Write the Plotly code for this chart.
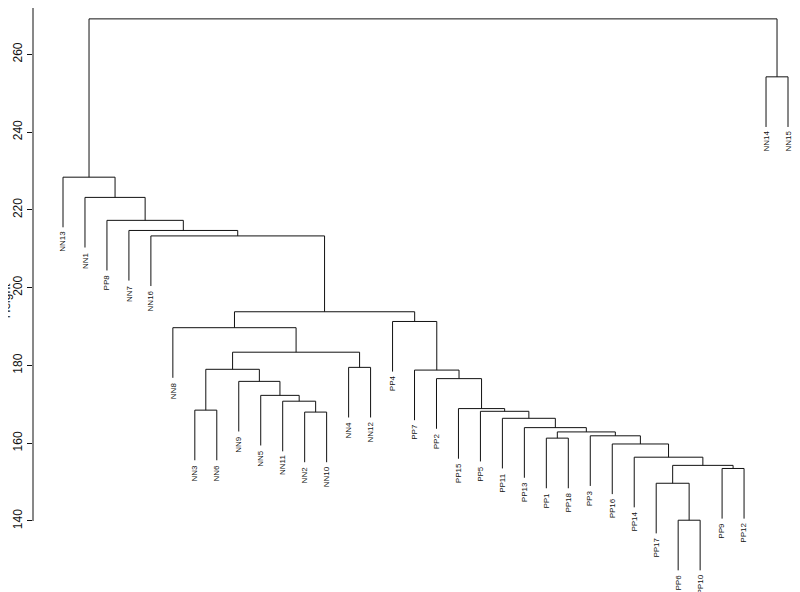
import plotly.graph_objects as go

# leaf order left to right
labels = ["NN13", "NN1", "PP8", "NN7", "NN16", "NN8", "NN3", "NN6", "NN9", "NN5",
          "NN11", "NN2", "NN10", "NN4", "NN12", "PP4", "PP7", "PP2", "PP15", "PP5",
          "PP11", "PP13", "PP1", "PP18", "PP3", "PP16", "PP14", "PP17", "PP6", "PP10",
          "PP9", "PP12", "NN14", "NN15"]

# merges: a leaf name or the index of an earlier merge
merge_left = ["PP6", "PP17", "PP9", 1, "PP14", "PP16", "PP1", "PP3", 6, "PP13",
              "PP11", "PP5", "PP15", "PP2", "PP7", "PP4", "NN2", "NN3", "NN11", "NN5",
              "NN9", 17, "NN4", 21, "NN8", 24, "NN16", "NN7", "PP8", "NN1",
              "NN13", "NN14", 30]
merge_right = ["PP10", 0, "PP12", 2, 3, 4, "PP18", 5, 7, 8,
               9, 10, 11, 12, 13, 14, "NN10", "NN6", 16, 18,
               19, 20, "NN12", 22, 23, 15, 25, 26, 27, 28,
               29, "NN15", 31]
merge_height = [140.2, 149.7, 153.5, 154.3, 156.4, 159.8, 161.3, 161.9, 162.9, 164.0,
                166.4, 168.2, 168.9, 176.6, 178.8, 191.3, 168.0, 168.5, 170.8, 172.3,
                175.9, 179.0, 179.5, 183.4, 189.7, 193.8, 213.3, 214.7, 217.3, 223.2,
                228.4, 254.2, 269.1]

hang = 0.1 * (max(merge_height) - min(merge_height))
leaf_x = {lab: i + 1 for i, lab in enumerate(labels)}
centers = []
xs, ys = [], []
leaf_bottom = {}


def node(ref, h):
    # returns x and y of the top of a child branch
    if isinstance(ref, str):
        leaf_bottom[ref] = h - hang
        return leaf_x[ref], h - hang
    return centers[ref], merge_height[ref]


for a, b, h in zip(merge_left, merge_right, merge_height):
    xa, ya = node(a, h)
    xb, yb = node(b, h)
    xs += [xa, xa, xb, xb, None]
    ys += [ya, h, h, yb, None]
    centers.append((xa + xb) / 2)

fig = go.Figure()
fig.add_trace(go.Scatter(x=xs, y=ys, mode="lines",
                         line=dict(color="#111", width=1), hoverinfo="skip"))

for lab in labels:
    fig.add_annotation(x=leaf_x[lab], y=leaf_bottom[lab], text=lab, textangle=-90,
                       showarrow=False, yanchor="top", xanchor="center", yshift=-2,
                       font=dict(size=8, color="#111", family="Liberation Sans, Arial"))

fig.add_annotation(x=0, xref="paper", xshift=-36, y=196.5, text="Height", textangle=-90,
                   showarrow=False, font=dict(size=12, color="#111", family="Liberation Sans, Arial"))

fig.add_shape(type="line", xref="paper", x0=0, x1=0, y0=140, y1=271.9,
              line=dict(color="#111", width=1))

# page keeps an 8px body margin around the figure
fig.update_layout(
    width=792, height=584,
    margin=dict(l=25, r=0, t=0, b=0),
    plot_bgcolor="white", paper_bgcolor="white",
    showlegend=False,
    font=dict(family="Liberation Sans, Arial", color="#111"),
    xaxis=dict(range=[-0.3655, 34.546], visible=False),
    yaxis=dict(range=[121.74, 271.9], showgrid=False, zeroline=False, showline=False,
               ticks="outside", ticklen=5, tickcolor="#111",
               tickvals=[140, 160, 180, 200, 220, 240, 260], tickangle=-90,
               tickfont=dict(size=12)),
)

fig.write_html("out.html")
